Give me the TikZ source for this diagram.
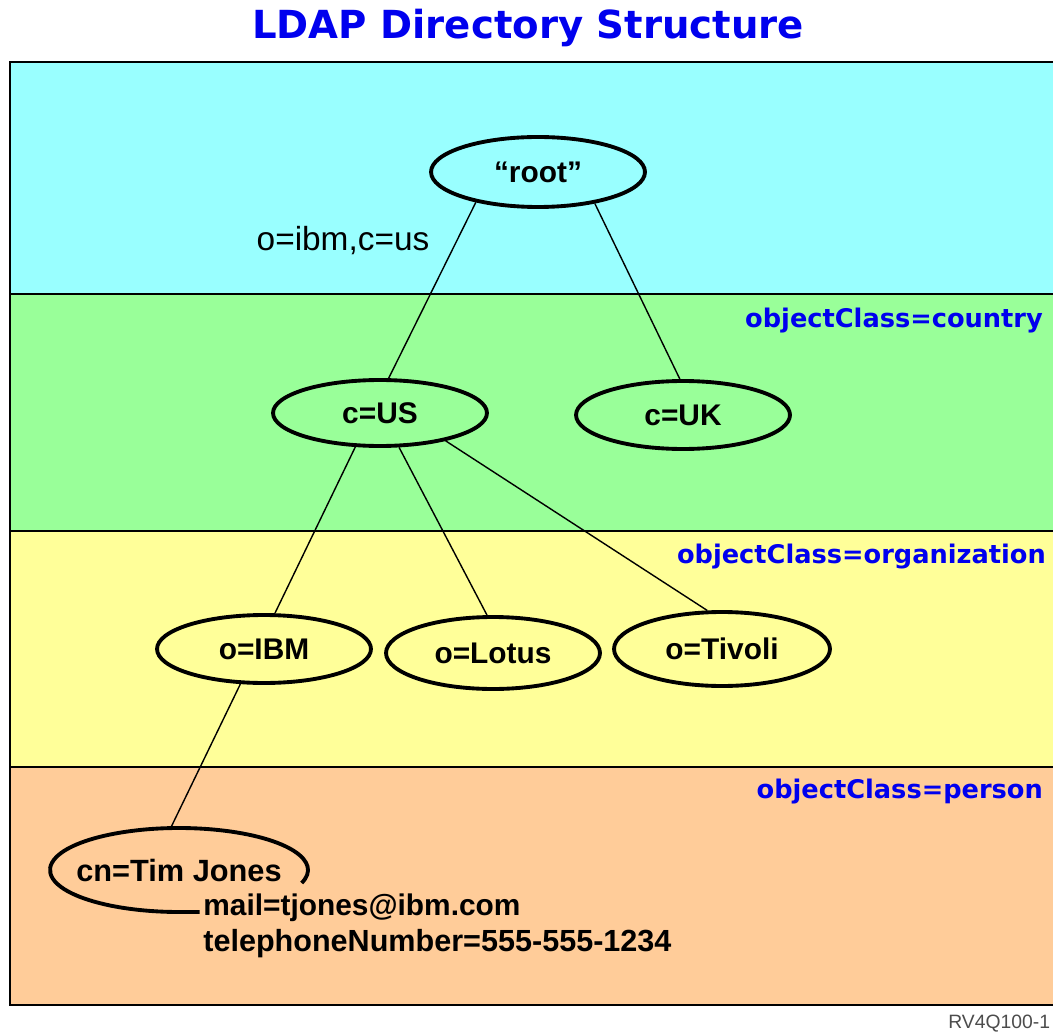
\documentclass[tikz,border=0pt]{standalone}
\usepackage{fontspec}
\setmainfont{Liberation Sans}
\newfontfamily\widefont{DejaVu Sans}
\usepackage{tikz}
\usetikzlibrary{
    shapes.geometric
}
\definecolor{bandcyan}{HTML}{99FFFF}
\definecolor{bandgreen}{HTML}{99FF99}
\definecolor{bandyellow}{HTML}{FFFF99}
\definecolor{bandpeach}{HTML}{FFCC99}
\definecolor{labelblue}{HTML}{0000EE}
\tikzset{
    entry/.style={ellipse, draw, line width=2.2pt, inner sep=0pt,
        minimum width=4.28cm, minimum height=1.4cm,
        font=\bfseries\fontsize{17}{20}\selectfont},
    classlabel/.style={anchor=base east, text=labelblue,
        font=\widefont\bfseries\fontsize{14.6}{17}\selectfont},
    attr/.style={anchor=base west, inner sep=0pt,
        font=\bfseries\fontsize{17}{20}\selectfont},
    band/.style={draw, line width=1.1pt},
    link/.style={line width=0.8pt}
}

\begin{document}
\begin{tikzpicture}[x=0.02cm, y=0.02cm]
        \useasboundingbox (0,0) rectangle (1053,1032);

        \node[text=labelblue, font=\widefont\bfseries\fontsize{22}{26}\selectfont] (title) at (528,1004) {LDAP Directory Structure};

        \draw[band, fill=bandcyan] (10,970) rectangle (1070,738);
        \draw[band, fill=bandgreen] (10,738) rectangle (1070,501);
        \draw[band, fill=bandyellow] (10,501) rectangle (1070,265);
        \draw[band, fill=bandpeach] (10,265) rectangle (1070,27);

        \node[classlabel] (country) at (1049,704) {objectClass=country};
        \node[classlabel] (organization) at (1052,469) {objectClass=organization};
        \node[classlabel] (person) at (1049,234) {objectClass=person};

        \node[entry] (root) at (538,860) {``root''};
        \node[entry, minimum height=1.32cm] (us) at (380,619) {c=US};
        \node[entry, minimum height=1.36cm] (uk) at (683,617) {c=UK};
        \node[entry, minimum height=1.36cm] (ibm) at (264,383) {o=IBM};
        \node[entry, minimum height=1.44cm] (lotus) at (493,379) {o=Lotus};
        \node[entry, minimum width=4.32cm, minimum height=1.48cm] (tivoli) at (722,383) {o=Tivoli};
        \node[ellipse, inner sep=0pt, minimum width=5.16cm, minimum height=1.68cm,
            font=\bfseries\fontsize{17.5}{20}\selectfont] (tim) at (179,162) {cn=Tim Jones};

        \node[font=\fontsize{19}{22}\selectfont] (dn) at (343,791) {o=ibm,c=us};
        \node[attr] (mail) at (203,117) {mail=tjones@ibm.com};
        \node[attr, font=\bfseries\fontsize{17.4}{20}\selectfont] (phone) at (203,81) {telephoneNumber=555-555-1234};
        \node[anchor=base west, inner sep=0pt, text=black!70, font=\fontsize{11}{13}\selectfont] (fig) at (948,4) {RV4Q100-1};

        \draw[link] (root.206) to (us.76);
        \draw[link] (root.331) to (uk.95);
        \draw[link] (us.234) to (ibm.73);
        \draw[link] (us.299) to (lotus.99);
        \draw[link] (us.337) to (tivoli.111);
        \draw[link] (ibm.236) to (tim.101);

        \draw[line width=2.2pt] (tim.center) ++(-18:2.58cm and 0.84cm)
            arc[start angle=-18, end angle=272, x radius=2.58cm, y radius=0.84cm] -- ++(0.32cm,0);
    \end{tikzpicture}
\end{document}
